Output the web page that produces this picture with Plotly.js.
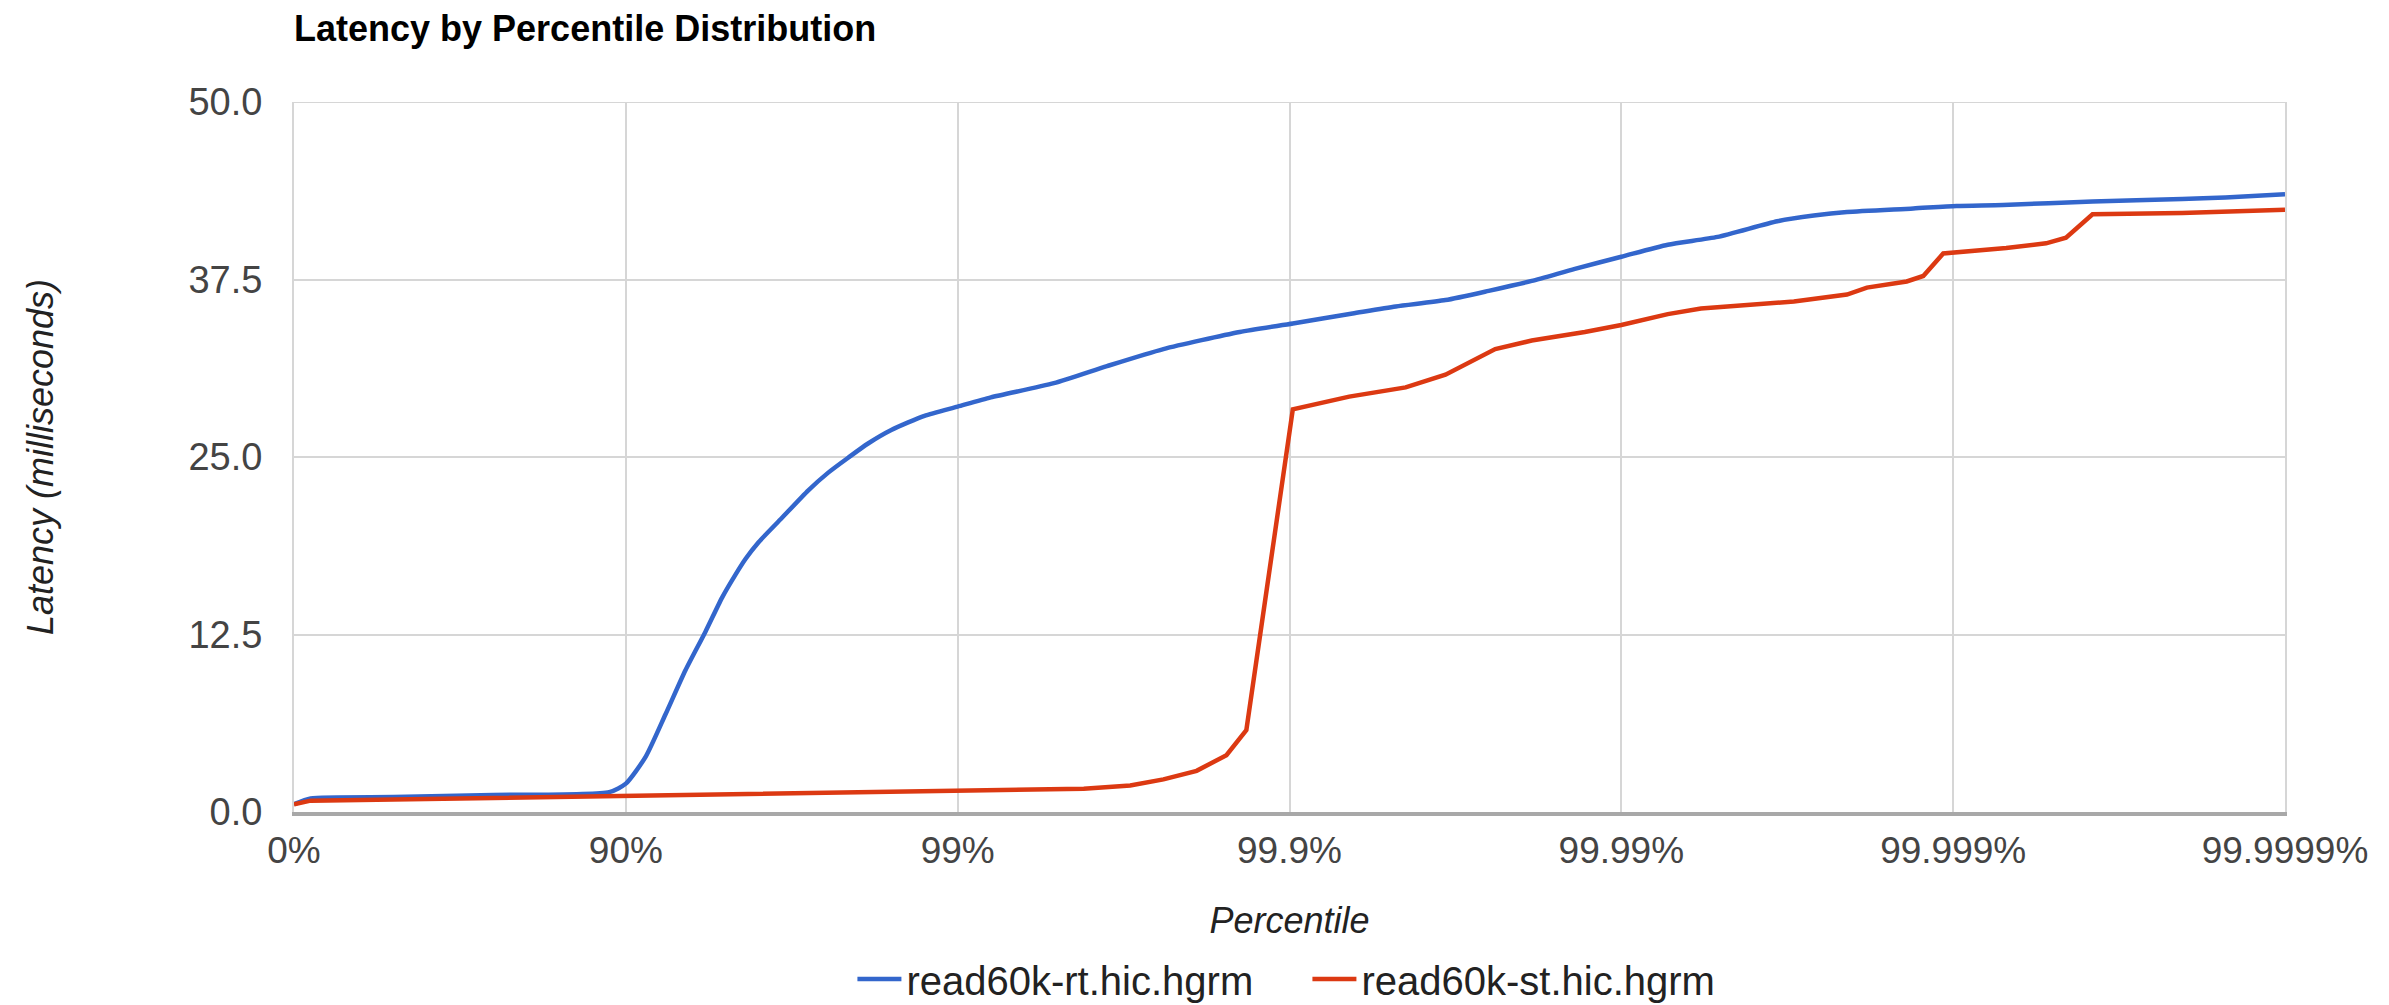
<!DOCTYPE html>
<html>
<head>
<meta charset="utf-8">
<script src="https://cdn.plot.ly/plotly-3.0.1.min.js"></script>
<style>
  html, body { margin: 0; padding: 0; background: #ffffff; }
  #chart { width: 2389px; height: 1005px; }
</style>
</head>
<body>
<div id="chart"></div>
<script>
// X positions are in "nines" along the percentile axis: 0 = 0%, 1 = 90%, 2 = 99%, ... 6 = 99.9999%
const tickPositions = [0, 1, 2, 3, 4, 5, 6];
const tickLabels = ['0%', '90%', '99%', '99.9%', '99.99%', '99.999%', '99.9999%'];
const yTicks = [0, 12.5, 25, 37.5, 50];

const seriesNames = ['read60k-rt.hic.hgrm', 'read60k-st.hic.hgrm'];

// read60k-rt.hic.hgrm
const rtNines = [0, 0.05, 0.3, 0.6, 0.95, 1.0, 1.06, 1.12, 1.18, 1.24, 1.29, 1.33, 1.36, 1.40, 1.47, 1.55, 1.61, 1.67, 1.73, 1.80, 1.90, 2.0, 2.1, 2.29, 2.45, 2.62, 2.85, 3.01, 3.19, 3.32, 3.47, 3.6, 3.73, 3.86, 4.0, 4.14, 4.29, 4.47, 4.58, 4.68, 4.88, 5.01, 5.15, 5.42, 5.69, 5.82, 6.0];
const rtLatency = [0.55, 0.95, 1.05, 1.2, 1.4, 2.0, 3.9, 6.9, 10.0, 12.7, 15.1, 16.7, 17.8, 19.0, 20.7, 22.65, 23.9, 24.95, 25.95, 26.9, 27.9, 28.55, 29.2, 30.2, 31.4, 32.6, 33.8, 34.4, 35.1, 35.6, 36.05, 36.7, 37.4, 38.25, 39.1, 39.95, 40.5, 41.6, 42.0, 42.25, 42.5, 42.68, 42.75, 43.0, 43.17, 43.27, 43.5];

// read60k-st.hic.hgrm
const stNines = [0, 0.05, 0.5, 1.0, 1.5, 2.0, 2.38, 2.52, 2.62, 2.72, 2.81, 2.87, 3.01, 3.18, 3.35, 3.47, 3.62, 3.73, 3.89, 4.0, 4.14, 4.24, 4.52, 4.68, 4.74, 4.86, 4.91, 4.97, 5.16, 5.28, 5.34, 5.42, 5.69, 6.0];
const stLatency = [0.55, 0.8, 0.95, 1.15, 1.3, 1.48, 1.64, 1.87, 2.3, 2.9, 4.0, 5.77, 28.36, 29.25, 29.9, 30.8, 32.6, 33.2, 33.8, 34.3, 35.06, 35.46, 35.95, 36.44, 36.93, 37.36, 37.75, 39.33, 39.72, 40.05, 40.45, 42.09, 42.19, 42.42];

const FONT = 'Liberation Sans, Arial, Helvetica, sans-serif';
const GRID = '#d6d6d6';

const traces = [
  {
    type: 'scatter', mode: 'lines', name: seriesNames[0],
    x: rtNines, y: rtLatency,
    line: { color: '#3366cc', width: 4.5, shape: 'spline', smoothing: 0.6 }
  },
  {
    type: 'scatter', mode: 'lines', name: seriesNames[1],
    x: stNines, y: stLatency,
    line: { color: '#dc3912', width: 4.5 }
  }
];

const layout = {
  width: 2389, height: 1005,
  paper_bgcolor: '#ffffff', plot_bgcolor: '#ffffff',
  margin: { l: 294, r: 104, t: 102, b: 193, pad: 0 },
  font: { family: FONT, size: 36, color: '#444444' },
  title: {
    text: 'Latency by Percentile Distribution',
    font: { family: FONT, size: 36, color: '#000000', weight: 'bold' },
    xref: 'paper', x: 0, xanchor: 'left',
    yref: 'container', y: 1 - 28 / 1005, yanchor: 'middle'
  },
  xaxis: {
    range: [0, 6], automargin: false,
    tickmode: 'array', tickvals: tickPositions, ticktext: tickLabels,
    showgrid: true, gridcolor: GRID, gridwidth: 2,
    zeroline: false,
    showline: true, linecolor: '#a8a8a8', linewidth: 4, mirror: false,
    ticks: '', ticklabelstandoff: 3,
    tickfont: { family: FONT, size: 37, color: '#444444' },
    title: { text: 'Percentile', font: { family: FONT, size: 36, color: '#222222', style: 'italic' }, standoff: 38 },
    fixedrange: true
  },
  yaxis: {
    range: [0, 50], automargin: false,
    tickmode: 'array', tickvals: yTicks, tickformat: '.1f',
    showgrid: true, gridcolor: GRID, gridwidth: 2,
    zeroline: false,
    showline: true, mirror: true, linecolor: GRID, linewidth: 2,
    ticks: '', ticklabelstandoff: 22,
    tickfont: { family: FONT, size: 38, color: '#444444' },
    title: { text: 'Latency (milliseconds)', font: { family: FONT, size: 36, color: '#222222', style: 'italic' }, standoff: 124 },
    fixedrange: true
  },
  shapes: [
    { type: 'line', xref: 'x domain', yref: 'y', x0: 0, x1: 1, y0: 50, y1: 50,
      line: { color: GRID, width: 2 }, layer: 'below' }
  ],
  showlegend: true,
  legend: {
    orientation: 'h',
    x: 0.509, xanchor: 'center', xref: 'paper',
    y: 26 / 1005, yanchor: 'middle', yref: 'container',
    font: { family: FONT, size: 40, color: '#222222' },
    itemwidth: 44,
    entrywidth: 396, entrywidthmode: 'pixels',
    bgcolor: 'rgba(0,0,0,0)'
  }
};

Plotly.newPlot('chart', traces, layout, { displayModeBar: false, staticPlot: true });
</script>
</body>
</html>
